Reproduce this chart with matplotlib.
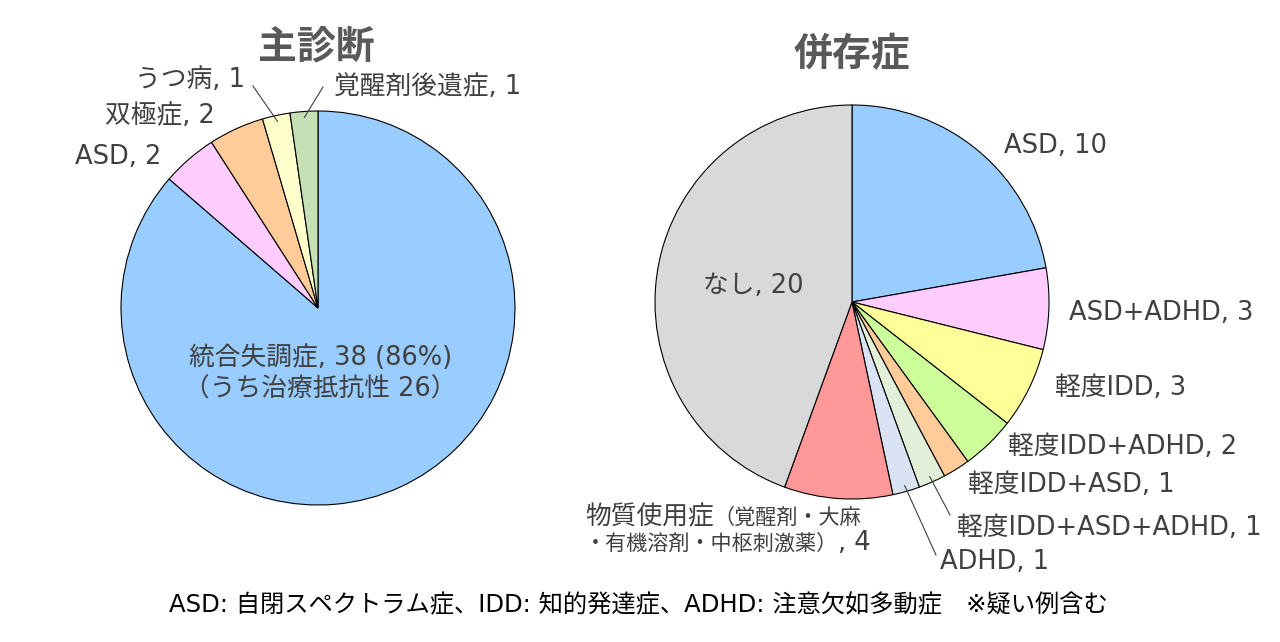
import numpy as np
import matplotlib.pyplot as plt

plt.rcParams["font.family"] = ["DejaVu Sans", "Noto Sans CJK JP"]

# 主診断
main_labels = ["統合失調症", "ASD", "双極症", "うつ病", "覚醒剤後遺症"]
main_values = [38, 2, 2, 1, 1]
main_colors = ["#99CCFF", "#FFCCFF", "#FFCC99", "#FFFFCC", "#C5E0B4"]

# 併存症
comorb_labels = ["ASD", "ASD+ADHD", "軽度IDD", "軽度IDD+ADHD", "軽度IDD+ASD",
                 "軽度IDD+ASD+ADHD", "ADHD", "物質使用症", "なし"]
comorb_values = [10, 3, 3, 2, 1, 1, 1, 4, 20]
comorb_colors = ["#99CCFF", "#FFCCFF", "#FFFF99", "#CCFF99", "#FFCC99",
                 "#E2F0D9", "#DAE3F3", "#FF9999", "#D9D9D9"]

W, H = 1280, 642
TXT = "#404040"
FS = 18.5

fig = plt.figure(figsize=(W / 100, H / 100), dpi=100)
ax = fig.add_axes([0, 0, 1, 1])


def Y(py):
    return H - py


left_c, right_c, R = (318, Y(308)), (852, Y(302)), 197

for vals, cols, c in [(main_values, main_colors, left_c),
                      (comorb_values, comorb_colors, right_c)]:
    ax.pie(vals, colors=cols, startangle=90, counterclock=False, center=c,
           radius=R, wedgeprops=dict(edgecolor="black", linewidth=0.8))

ax.set_xlim(0, W)
ax.set_ylim(0, H)
ax.set_aspect("equal")
ax.axis("off")


def wedge_point(vals, i, c, frac=0.97):
    tot = sum(vals)
    mid = (sum(vals[:i]) + vals[i] / 2) / tot * 2 * np.pi
    return c[0] + frac * R * np.sin(mid), c[1] + frac * R * np.cos(mid)


def lab(x, y, s, size=FS, ha="center", va="center"):
    return ax.text(x, Y(y), s, fontsize=size, color=TXT, ha=ha, va=va)


# titles
ax.text(316, Y(47), "主診断", fontsize=28, fontweight="bold", color="#595959",
        ha="center", va="center")
ax.text(852, Y(55), "併存症", fontsize=28, fontweight="bold", color="#595959",
        ha="center", va="center")

# left labels
lab(321, 358, f"{main_labels[0]}, {main_values[0]} "
    f"({main_values[0] / sum(main_values):.0%})")
lab(320, 390, "（うち治療抵抗性 26）")
lab(118, 157, f"{main_labels[1]}, {main_values[1]}")
lab(160, 116, f"{main_labels[2]}, {main_values[2]}")
lab(190, 80, f"{main_labels[3]}, {main_values[3]}")
lab(428, 87, f"{main_labels[4]}, {main_values[4]}")

for i, end in [(3, (253, 86)), (4, (323, 87))]:
    px, py = wedge_point(main_values, i, left_c)
    ax.plot([px, end[0]], [py, Y(end[1])], color="#404040", lw=0.8)

# right labels
pos = {0: (1055, 146), 1: (1161, 313), 2: (1121, 388), 3: (1123, 447),
       4: (1071, 485), 5: (1109, 528), 6: (995, 562), 8: (753, 286)}
for i, (x, y) in pos.items():
    lab(x, y, f"{comorb_labels[i]}, {comorb_values[i]}")

for i, end in [(5, (950, 515)), (6, (936, 555))]:
    px, py = wedge_point(comorb_values, i, right_c)
    ax.plot([px, end[0]], [py, Y(end[1])], color="#404040", lw=0.8)

# 物質使用症 (two sizes, chained on a common baseline)
renderer = fig.canvas.get_renderer()


def chain(x, y, parts):
    for s, size in parts:
        t = lab(x, y, s, size=size, ha="left", va="baseline")
        x = t.get_window_extent(renderer).x1


chain(585, 524, [(comorb_labels[7], FS), ("（覚醒剤・大麻", 15.2)])
chain(585, 550, [("・有機溶剤・中枢刺激薬）", 15.2), (f", {comorb_values[7]}", FS)])

ax.text(638, Y(605), "ASD: 自閉スペクトラム症、IDD: 知的発達症、ADHD: 注意欠如多動症　※疑い例含む",
        fontsize=17.5, color="black", ha="center", va="center")

fig.savefig("out.png", dpi=100)
